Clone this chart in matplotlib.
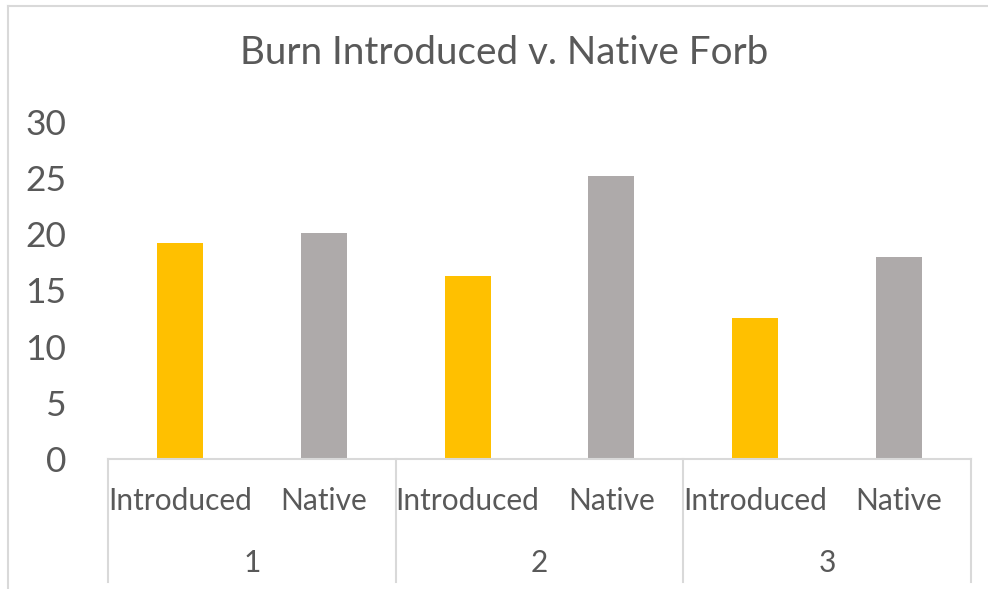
import matplotlib
matplotlib.use("Agg")
import matplotlib.pyplot as plt
from matplotlib.lines import Line2D
import matplotlib.transforms as mtransforms

# data
groups = ["1", "2", "3"]
kinds = ["Introduced", "Native"]
values = [19.2, 20.1, 16.3, 25.2, 12.5, 18.0]
colors = ["#FFC000", "#AEAAAA"]

W, H = 988, 589
txt = "#595959"
grid = "#D9D9D9"
plt.rcParams['font.family'] = ['Lato', 'DejaVu Sans']

fig = plt.figure(figsize=(W / 100, H / 100), dpi=100)
ax = fig.add_axes([108 / W, 1 - 459 / H, (971 - 108) / W, (459 - 121.7) / H])

x = list(range(len(values)))
bar_colors = [colors[i % 2] for i in x]
ax.bar(x, values, width=0.32, color=bar_colors, zorder=2)

ax.set_xlim(-0.5, len(values) - 0.5)
ax.set_ylim(0, 30)
ax.set_yticks(range(0, 31, 5))
ax.tick_params(axis='y', length=0, pad=30, labelsize=25.5, labelcolor=txt)
ax.set_xticks([])
for s in ["top", "right", "left"]:
    ax.spines[s].set_visible(False)
ax.spines["bottom"].set_color(grid)
ax.spines["bottom"].set_linewidth(1.5)

trans = mtransforms.blended_transform_factory(ax.transData, ax.transAxes)
ph = 459 - 121.7
# inner labels
for i in x:
    ax.text(i, -(501 - 459) / ph, kinds[i % 2], transform=trans, ha='center', va='center',
            fontsize=21.5, color=txt)
# group labels
for g, name in enumerate(groups):
    ax.text(2 * g + 0.5, -(563 - 459) / ph, name, transform=trans, ha='center', va='center',
            fontsize=21.5, color=txt)
# group dividers
for d in [-0.5, 1.5, 3.5, 5.5]:
    ax.plot([d, d], [0, -(582 - 459) / ph], transform=trans, color=grid, lw=1.5, clip_on=False)

# chart border (left and top)
fig.add_artist(Line2D([8 / W, 8 / W], [0, 1 - 5.7 / H], color=grid, lw=1.5))
fig.add_artist(Line2D([8 / W, 1], [1 - 5.7 / H, 1 - 5.7 / H], color=grid, lw=1.5))

fig.text(504 / W, 1 - 53 / H, "Burn Introduced v. Native Forb", ha='center', va='center',
         fontsize=27.8, color=txt)

fig.savefig("out.png", dpi=100)
